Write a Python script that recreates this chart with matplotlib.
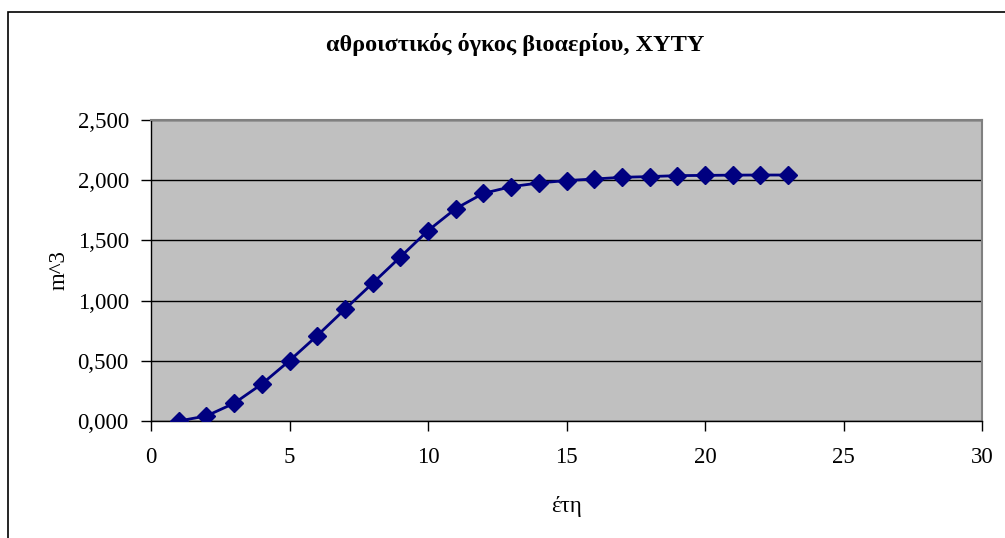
import matplotlib.pyplot as plt
from matplotlib.patches import Rectangle
from matplotlib.ticker import FuncFormatter

# cumulative biogas volume per year
years = list(range(1, 24))
volume = [0.000, 0.042, 0.147, 0.307, 0.501, 0.709, 0.928, 1.144, 1.362, 1.581,
          1.764, 1.891, 1.946, 1.977, 1.997, 2.010, 2.024, 2.030, 2.038, 2.040,
          2.042, 2.043, 2.043]

title = 'αθροιστικός όγκος βιοαερίου, ΧΥΤΥ'
xlabel = 'έτη'
ylabel = 'm^3'

plt.rcParams['font.family'] = ['Liberation Serif', 'DejaVu Serif']

fig = plt.figure(figsize=(10.05, 5.38), dpi=100)
ax = fig.add_axes([151 / 1005, 1 - 421 / 538, (982 - 151) / 1005, (421 - 120) / 538])
ax.set_facecolor('#C0C0C0')

ax.plot(years, volume, color='#000080', lw=2, marker='D', markersize=9,
        markerfacecolor='#000080', markeredgecolor='#000080', zorder=3)

ax.set_xlim(0, 30)
ax.set_ylim(0, 2.5)
ax.set_xticks(range(0, 31, 5))
ax.set_yticks([0, 0.5, 1.0, 1.5, 2.0, 2.5])
ax.yaxis.set_major_formatter(FuncFormatter(lambda v, p: f'{v:,.3f}'.replace('.', ',')))

ax.grid(axis='y', color='black', lw=1)
ax.set_axisbelow(True)
for s in ['top', 'right']:
    ax.spines[s].set_color('#808080')
    ax.spines[s].set_linewidth(1.5)
for s in ['left', 'bottom']:
    ax.spines[s].set_color('black')
    ax.spines[s].set_linewidth(1)

ax.tick_params(direction='out', length=7, width=1, labelsize=16.5, color='black')
ax.tick_params(axis='y', pad=9)
ax.tick_params(axis='x', pad=12)

fig.text(515 / 1005, 1 - 45 / 538, title, fontsize=17.5, fontweight='bold',
         ha='center', va='center')
ax.set_xlabel(xlabel, fontsize=16.5, labelpad=20)
ax.set_ylabel(ylabel, fontsize=16.5, labelpad=6)

# outer chart border (left and top only visible)
fig.patches.append(Rectangle((8 / 1005, -0.1), 2, 1 - 12.5 / 538 + 0.1,
                             transform=fig.transFigure, fill=False,
                             edgecolor='black', lw=1.2))

fig.savefig('out.png', dpi=100)
